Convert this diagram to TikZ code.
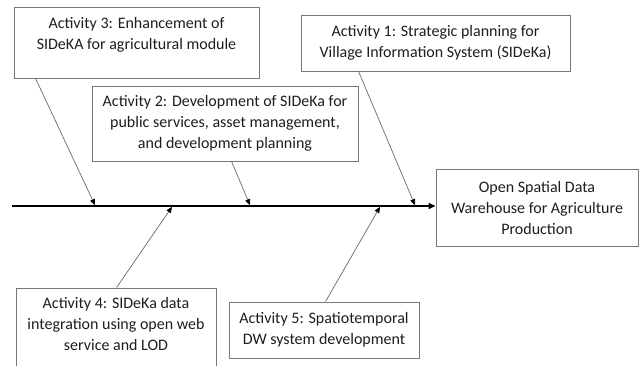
\documentclass[tikz,border=0pt]{standalone}
\usepackage{fontspec}
\setmainfont{Carlito}
\usetikzlibrary{arrows.meta,calc}
\definecolor{boxgray}{RGB}{120,120,120}
\definecolor{linegray}{RGB}{105,105,105}
\definecolor{textcol}{RGB}{30,30,30}
\begin{document}
\begin{tikzpicture}[x=1pt,y=-1pt,
  box/.style={draw=boxgray, line width=0.9pt, inner sep=0pt, fill=white},
  txt/.style={align=center, font=\fontsize{16}{21}\selectfont, text=textcol, inner sep=0pt},
  conn/.style={draw=linegray, line width=0.7pt, -{Triangle[length=6pt,width=5pt,color=black]}},
  spine/.style={draw=black, line width=1.4pt, -{Triangle[length=7pt,width=6pt]}}
]
\useasboundingbox (0,0) rectangle (640,365);

% boxes
\node[box, minimum width=245pt, minimum height=71pt] (a3box) at (136.5,42.5) {};
\node[txt] (a3) at (136.5,35) {Activity 3: Enhancement of\\SIDeKA for agricultural module};

\node[box, txt, minimum width=269pt, minimum height=56pt] (a1) at (435.5,43)
  {Activity 1: Strategic planning for\\Village Information System (SIDeKa)};

\node[box, txt, minimum width=266pt, minimum height=75pt] (a2) at (225,123.5)
  {Activity 2: Development of SIDeKa for\\public services, asset management,\\and development planning};

\node[box, txt, minimum width=202pt, minimum height=77pt] (res) at (537,207.5)
  {Open Spatial Data\\Warehouse for Agriculture\\Production};

\begin{scope}
  \clip (0,0) rectangle (640,365);
  \node[box, minimum width=200pt, minimum height=84pt] (a4box) at (116,330) {};
\end{scope}
\node[txt] (a4) at (116,324) {Activity 4: SIDeKa data\\integration using open web\\service and LOD};

\node[box, txt, minimum width=190pt, minimum height=56pt] (a5) at (324,330)
  {Activity 5: Spatiotemporal\\DW system development};

% spine
\coordinate (ms) at (12,206);
\draw[spine] (ms) -- (ms -| res.west);

% arrow tips on the spine
\coordinate (t3) at (95,205.2);
\coordinate (t2) at (250,205.2);
\coordinate (t1) at (415,205.2);
\coordinate (t4) at (172,206.8);
\coordinate (t5) at (380,206.8);

% connectors
\draw[conn] ($(a3box.south west)+(22,0)$) -- (t3);
\draw[conn] ($(a2.south west)+(140,0)$) -- (t2);
\draw[conn] ($(a1.south west)+(58,0)$) -- (t1);
\draw[conn] ($(a4box.north west)+(101,0)$) -- (t4);
\draw[conn] ($(a5.north west)+(97,0)$) -- (t5);
\end{tikzpicture}
\end{document}
